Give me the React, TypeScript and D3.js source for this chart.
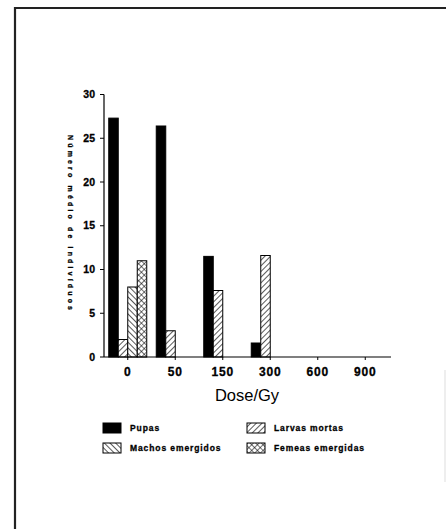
import React, { useEffect } from "react";
import * as d3 from "d3";

const doses = ["0", "50", "150", "300", "600", "900"];
const pupas = [27.3, 26.4, 11.5, 1.6, 0, 0];
const larvasMortas = [2.0, 3.0, 7.6, 11.6, 0, 0];
const machosEmergidos = [8.0, 0, 0, 0, 0, 0];
const femeasEmergidas = [11.0, 0, 0, 0, 0, 0];
const yTicks = [0, 5, 10, 15, 20, 25, 30];
const seriesNames = ["Pupas", "Larvas mortas", "Machos emergidos", "Femeas emergidas"];
const xTitle = "Dose/Gy";
const yTitle = "Número médio de indivíduos";

const fills = ["#000", "url(#pLarvas)", "url(#pMachos)", "url(#pFemeas)"];

export default function App() {
  useEffect(() => {
    document.body.style.margin = "0";
    document.body.style.overflow = "hidden";
    document.documentElement.style.overflow = "hidden";
  }, []);
  const W = 446, H = 529;
  const left = 104, right = 389, top = 94.5, bottom = 357;
  const x = d3.scaleBand<string>().domain(doses).range([left, right]);
  const y = d3.scaleLinear().domain([0, 30]).range([bottom, top]);
  const series = [pupas, larvasMortas, machosEmergidos, femeasEmergidas];
  const barW = 9.5;
  const tickFont = "'Liberation Sans', Arial, sans-serif";

  const legendPos = [
    { x: 103, y: 423 },
    { x: 247, y: 423 },
    { x: 103, y: 443 },
    { x: 247, y: 443 },
  ];

  return (
    <svg width={W} height={H} style={{ position: "fixed", left: 0, top: 0, background: "#fff", display: "block" }}>
      <defs>
        <pattern id="pLarvas" width="4" height="4" patternUnits="userSpaceOnUse" patternTransform="rotate(45)">
          <rect width="4" height="4" fill="#fff" />
          <line x1="0" y1="0" x2="0" y2="4" stroke="#000" strokeWidth="1.3" />
        </pattern>
        <pattern id="pMachos" width="4" height="4" patternUnits="userSpaceOnUse" patternTransform="rotate(-45)">
          <rect width="4" height="4" fill="#fff" />
          <line x1="0" y1="0" x2="0" y2="4" stroke="#000" strokeWidth="1.3" />
        </pattern>
        <pattern id="pFemeas" width="4" height="4" patternUnits="userSpaceOnUse" patternTransform="rotate(45)">
          <rect width="4" height="4" fill="#fff" />
          <line x1="0" y1="0" x2="0" y2="4" stroke="#000" strokeWidth="1.1" />
          <line x1="0" y1="0" x2="4" y2="0" stroke="#000" strokeWidth="1.1" />
        </pattern>
      </defs>

      {/* frame */}
      <path d={`M15,${H} L15,8 L${W},8`} fill="none" stroke="#222" strokeWidth={2.2} />
      <line x1={445} x2={445} y1={370} y2={482} stroke="#ddd" strokeWidth={1} />

      {/* bars */}
      {series.map((vals, si) =>
        vals.map((v, i) => {
          if (v <= 0) return null;
          const cx = x(doses[i])! + x.bandwidth() / 2;
          const bx = cx - 2 * barW + si * barW;
          return (
            <rect
              key={`${si}-${i}`}
              x={bx}
              y={y(v)}
              width={barW}
              height={bottom - y(v)}
              fill={fills[si]}
              stroke="#000"
              strokeWidth={1}
            />
          );
        })
      )}

      {/* y axis */}
      <line x1={left} x2={left} y1={top} y2={bottom} stroke="#000" strokeWidth={1.2} />
      {yTicks.map((t) => (
        <g key={t}>
          <line x1={left - 4} x2={left} y1={y(t)} y2={y(t)} stroke="#000" strokeWidth={1} />
          <text
            x={left - 9}
            y={y(t)}
            dy="0.35em"
            textAnchor="end"
            fontFamily={tickFont}
            fontWeight="bold"
            fontSize={10.5}
            stroke="#000"
            strokeWidth={0.3}
          >
            {t}
          </text>
        </g>
      ))}
      <text
        transform={`translate(70, ${(135 + 310) / 2}) rotate(90)`}
        textAnchor="middle"
        dy="0.35em"
        fontFamily={tickFont}
        fontWeight="bold"
        fontSize={7}
        textLength={175}
        lengthAdjust="spacing"
        stroke="#000"
        strokeWidth={0.3}
      >
        {yTitle}
      </text>

      {/* x axis */}
      <line x1={left} x2={right + 2} y1={bottom} y2={bottom} stroke="#000" strokeWidth={1.2} />
      {doses.map((d) => {
        const cx = x(d)! + x.bandwidth() / 2;
        return (
          <g key={d}>
            <line x1={cx} x2={cx} y1={bottom} y2={bottom + 3} stroke="#000" strokeWidth={1} />
            <text
              x={cx}
              y={376}
              textAnchor="middle"
              fontFamily={tickFont}
              fontWeight="bold"
              fontSize={12}
              letterSpacing={0.8}
              stroke="#000"
              strokeWidth={0.3}
            >
              {d}
            </text>
          </g>
        );
      })}
      <text
        x={247}
        y={401}
        textAnchor="middle"
        fontFamily={tickFont}
        fontSize={16.5}
      >
        {xTitle}
      </text>

      {/* legend */}
      {seriesNames.map((name, i) => (
        <g key={name}>
          <rect
            x={legendPos[i].x}
            y={legendPos[i].y}
            width={18}
            height={10}
            fill={fills[i]}
            stroke="#000"
            strokeWidth={1}
          />
          <text
            x={legendPos[i].x + 27}
            y={legendPos[i].y + 5}
            dy="0.35em"
            fontFamily={tickFont}
            fontWeight="bold"
            fontSize={8.5}
            letterSpacing={0.9}
            stroke="#000"
            strokeWidth={0.3}
          >
            {name}
          </text>
        </g>
      ))}
    </svg>
  );
}
